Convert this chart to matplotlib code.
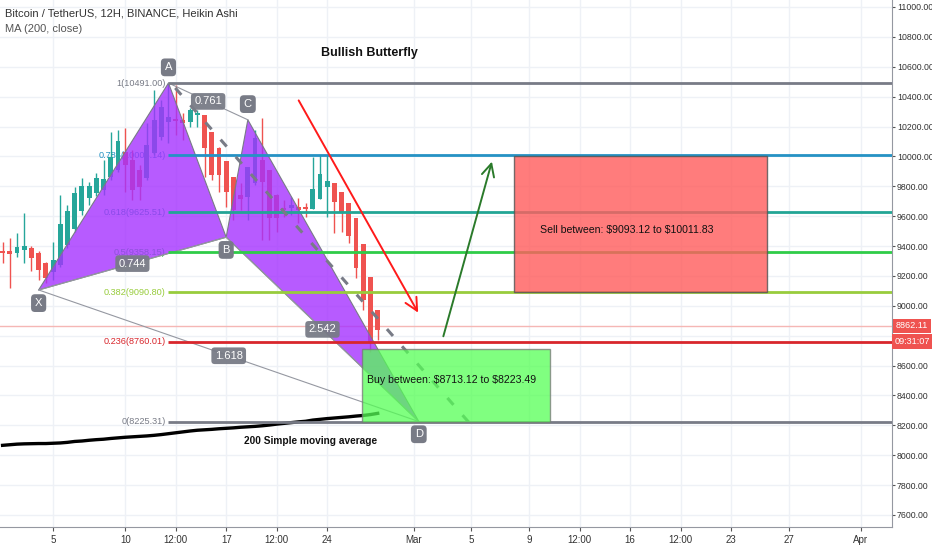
import matplotlib
matplotlib.use('Agg')
import matplotlib.pyplot as plt
from matplotlib.patches import Polygon, Rectangle
import numpy as np

plt.rcParams['font.family'] = ['Liberation Sans', 'DejaVu Sans']

# x values are days counted from 1 Feb 2020, one Heikin Ashi candle every 12 hours
ha_open = [9367, 9367, 9354, 9374, 9387, 9354, 9287, 9226, 9273, 9407,
           9514, 9635, 9722, 9755, 9775, 9862, 9909, 10030, 9976, 9909,
           9856, 10023, 10130, 10230, 10250, 10244, 10230, 10277, 10277, 10163,
           10056, 9969, 9862, 9742, 9728, 9822, 9976, 9909, 9742, 9655,
           9655, 9661, 9661, 9648, 9715, 9795, 9822, 9762, 9688, 9588,
           9414, 9193, 8972]
ha_high = [9427, 9454, 9487, 9621, 9400, 9367, 9290, 9427, 9742, 9675,
           9795, 9856, 9829, 9889, 9976, 10163, 10177, 10190, 10043, 9943,
           10224, 10445, 10378, 10491, 10480, 10291, 10324, 10311, 10280, 10165,
           10060, 9970, 9865, 9822, 9930, 10177, 10257, 9910, 9745, 9708,
           9728, 9722, 9689, 9996, 10009, 10009, 9825, 9765, 9690, 9590,
           9415, 9195, 8975]
ha_low = [9287, 9119, 9327, 9287, 9233, 9173, 9153, 9173, 9260, 9387,
          9494, 9608, 9675, 9735, 9742, 9842, 9896, 9762, 9708, 9708,
          9842, 10009, 10110, 10090, 10143, 10110, 10197, 10197, 9862, 9842,
          9762, 9661, 9574, 9641, 9574, 9809, 9441, 9441, 9494, 9595,
          9608, 9554, 9595, 9645, 9712, 9595, 9487, 9494, 9421, 9186,
          8972, 8691, 8771]
ha_close = [9354, 9347, 9394, 9400, 9320, 9240, 9186, 9307, 9548, 9635,
            9755, 9802, 9802, 9856, 9849, 9996, 10103, 9943, 9775, 9795,
            10076, 10244, 10331, 10264, 10237, 10224, 10311, 10291, 10056, 9876,
            9876, 9762, 9641, 9715, 9929, 10123, 9829, 9588, 9588, 9641,
            9675, 9641, 9648, 9782, 9882, 9835, 9695, 9621, 9467, 9253,
            9039, 8758, 8838]
ma200 = [8066, 8070, 8074, 8076, 8077, 8078, 8078, 8080, 8082, 8086,
         8092, 8095, 8100, 8104, 8107, 8112, 8116, 8120, 8123, 8126,
         8129, 8133, 8138, 8144, 8150, 8156, 8162, 8167, 8170, 8173,
         8177, 8180, 8183, 8187, 8190, 8193, 8197, 8202, 8208, 8213,
         8218, 8223, 8227, 8235, 8240, 8245, 8249, 8253, 8257, 8262,
         8266, 8272, 8280]

# butterfly points (day, price)
pat_names = ['X', 'A', 'B', 'C', 'D']
pat_days = [3.0, 12.0, 16.0, 17.5, 29.35]
pat_prices = [9106, 10491, 9459, 10245, 8225.31]

fib_levels = [1, 0.786, 0.618, 0.5, 0.382, 0.236, 0]
fib_prices = [10491.00, 10006.14, 9625.51, 9358.15, 9090.80, 8760.01, 8225.31]
fib_colors = ['#787b86', '#2592c4', '#22a595', '#2fcc48', '#98cc3c', '#d8262c', '#787b86']

tick_days = [4, 9, 12.5, 16, 19.5, 23, 29, 33, 37, 40.5, 44, 47.5, 51, 55, 60]
tick_names = ['5', '10', '12:00', '17', '12:00', '24', 'Mar', '5', '9', '12:00',
              '16', '12:00', '23', '27', 'Apr']
price_ticks = [7600, 7800, 8000, 8200, 8400, 8600, 8800, 9000, 9200, 9400,
               9600, 9800, 10000, 10200, 10400, 10600, 10800, 11000]

last_price = 8862.11

fig = plt.figure(figsize=(9.32, 5.5), dpi=100)
ax = fig.add_axes([0, 23 / 550, 892 / 932, 527 / 550])
ax.set_xlim(0.322, 62.15)
ax.set_ylim(7519.4, 11046.85)

# axes and grid
ax.set_xticks(tick_days)
ax.set_xticklabels(tick_names)
ax.set_yticks(price_ticks)
# the 8800 label sits under the last price tag
ax.set_yticklabels(['' if p == 8800 else '%.2f' % p for p in price_ticks])
ax.yaxis.tick_right()
ax.grid(True, color='#eef1f6', lw=1, zorder=0)
ax.tick_params(axis='x', labelsize=7, colors='#555555', labelcolor='#333333',
               length=3, pad=3)
ax.tick_params(axis='y', labelsize=6.3, colors='#555555', labelcolor='#333333',
               length=2, pad=1.5)
for s in ['top', 'left']:
    ax.spines[s].set_visible(False)
ax.spines['right'].set_color('#9598a1')
ax.spines['bottom'].set_color('#9598a1')

# candles
days = 0.5 + 0.5 * np.arange(len(ha_open))
o = np.array(ha_open)
c = np.array(ha_close)
cols = np.where(c >= o, '#26a69a', '#ef5350')
ax.vlines(days, ha_low, ha_high, colors=cols, lw=1, zorder=3)
bh = np.maximum(np.abs(c - o), 10)
ax.bar(days, bh, bottom=np.minimum(o, c), width=0.34, color=cols, zorder=3)

# moving average
ax.plot(days, ma200, color='black', lw=2.4, zorder=4)

# fib lines with labels
for lv, pr, col in zip(fib_levels, fib_prices, fib_colors):
    ax.plot([pat_days[1], 62.15], [pr, pr], color=col, lw=2, zorder=6, solid_capstyle='butt')
    ax.text(pat_days[1] - 0.2, pr, '%g(%.2f)' % (lv, pr), color=col, fontsize=6.6,
            ha='right', va='center', zorder=2)

ax.axhline(last_price, color='#f5b7b5', lw=1, zorder=2)

# butterfly triangles
P = list(zip(pat_days, pat_prices))
for tri in [(P[0], P[1], P[2]), (P[2], P[3], P[4])]:
    ax.add_patch(Polygon(tri, closed=True, facecolor='#a532ff', alpha=0.8,
                         edgecolor='none', zorder=5))
    ax.add_patch(Polygon(tri, closed=True, fill=False, edgecolor='#787b86', lw=0.8, zorder=5))

box = dict(boxstyle='round,pad=0.3', facecolor='#787b86', edgecolor='none', alpha=0.95)
for i, j, txt in [(0, 2, '0.744'), (1, 3, '0.761'), (2, 4, '2.542'), (0, 4, '1.618')]:
    ax.plot([pat_days[i], pat_days[j]], [pat_prices[i], pat_prices[j]],
            color='#9598a1', lw=0.8, zorder=5)
    ax.text((pat_days[i] + pat_days[j]) / 2, (pat_prices[i] + pat_prices[j]) / 2, txt,
            color='white', fontsize=8, ha='center', va='center', bbox=box, zorder=9)

offs = [-88, 105, -85, 105, -85]
for name, d, pr, off in zip(pat_names, pat_days, pat_prices, offs):
    ax.text(d, pr + off, name, color='white', fontsize=8, ha='center', va='center',
            bbox=dict(boxstyle='round,pad=0.35', facecolor='#787b86', edgecolor='none'),
            zorder=9)

# dashed trend line
ax.plot([12.47, 32.8], [10458, 8222], color='#787b86', lw=2.2, dashes=(3, 4.5), zorder=7)

# sell / buy zones
ax.add_patch(Rectangle((35.92, 9093.12), 53.48 - 35.92, 10002 - 9093.12,
                       facecolor='#ff5f5f', alpha=0.82, edgecolor='#555555', lw=1, zorder=7))
ax.text(43.76, 9507, r'Sell between: \$9093.12 to \$10011.83', fontsize=7.6,
        ha='center', va='center', color='#111111', zorder=8)
ax.add_patch(Rectangle((25.44, 8223.49), 38.42 - 25.44, 8713.12 - 8223.49,
                       facecolor='#55ff55', alpha=0.75, edgecolor='#777777', lw=1, zorder=7))
ax.text(31.62, 8503, r'Buy between: \$8713.12 to \$8223.49', fontsize=7.6,
        ha='center', va='center', color='#111111', zorder=8)

# arrows
ax.annotate('', xy=(29.4, 8938), xytext=(20.93, 10391),
            arrowprops=dict(arrowstyle='->,head_length=0.9,head_width=0.45', color='#ff1a1a', lw=1.4),
            zorder=8)
ax.annotate('', xy=(34.47, 9983), xytext=(31.0, 8778),
            arrowprops=dict(arrowstyle='->,head_length=0.9,head_width=0.45', color='#2a7a2a', lw=1.4),
            zorder=8)

ax.text(25.93, 10692, 'Bullish Butterfly', fontsize=9, fontweight='bold',
        ha='center', va='center', color='#111111')
ax.text(21.83, 8095, '200 Simple moving average', fontsize=7.3, fontweight='bold',
        ha='center', va='center', color='#111111', zorder=8)

fig.text(5 / 932, 1 - 14 / 550, 'Bitcoin / TetherUS, 12H, BINANCE, Heikin Ashi',
         fontsize=8, color='#333333', va='center')
fig.text(5 / 932, 1 - 29 / 550, 'MA (200, close)', fontsize=8, color='#555555', va='center')

tag = dict(boxstyle='square,pad=0.3', facecolor='#ef5350', edgecolor='none')
fig.text(912 / 932, 1 - 326 / 550, '%.2f' % last_price, fontsize=6.6, color='white',
         ha='center', va='center', bbox=tag)
fig.text(912 / 932, 1 - 341.5 / 550, '09:31:07', fontsize=6.6, color='white',
         ha='center', va='center', bbox=tag)

fig.savefig('out.png', dpi=100)
